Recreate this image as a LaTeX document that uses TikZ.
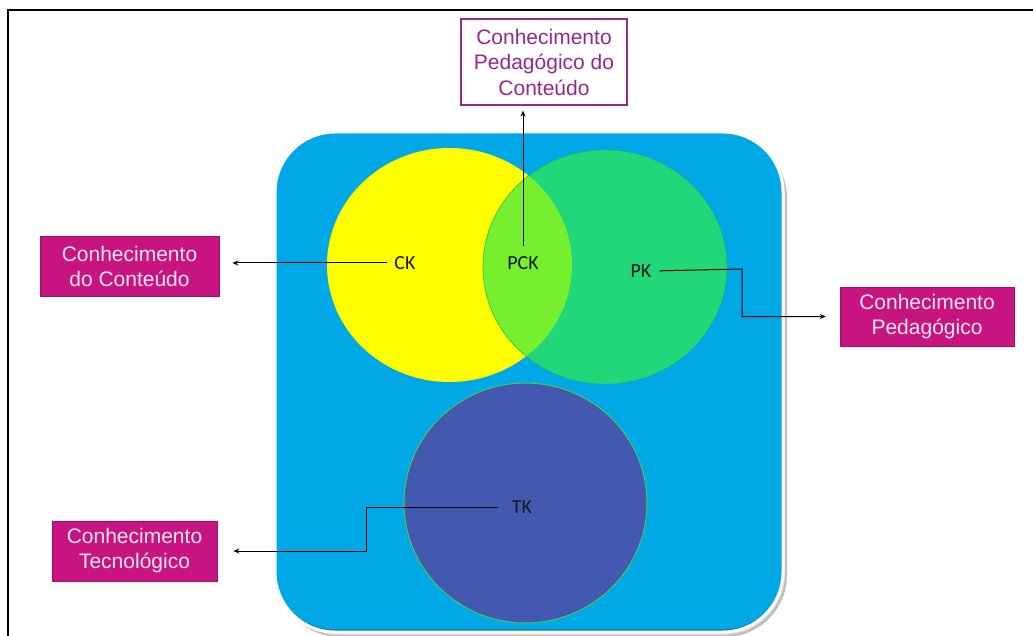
\documentclass[tikz,border=0pt]{standalone}
\usepackage{fontspec}
\newfontfamily\arialf{Liberation Sans}
\newfontfamily\calf{Carlito}
\usetikzlibrary{shapes.geometric,arrows.meta,calc}
\definecolor{bluebg}{RGB}{0,168,230}
\definecolor{ckyellow}{RGB}{255,255,0}
\definecolor{pkgreen}{RGB}{34,214,122}
\definecolor{pckgreen}{RGB}{118,240,46}
\definecolor{tkblue}{RGB}{67,89,176}
\definecolor{tkrim}{RGB}{70,200,90}
\definecolor{magbox}{RGB}{200,20,128}
\definecolor{magtext}{RGB}{252,228,240}
\definecolor{purp}{RGB}{150,40,140}
\tikzset{
  venn/.style={ellipse, draw=none, inner sep=0pt},
  lbl/.style={font=\calf\fontsize{20}{24}\selectfont, text=black!90, inner sep=0pt},
  magbox/.style={fill=magbox, draw=magbox!80!black, line width=0.6pt, text=magtext,
     font=\arialf\fontsize{21}{25}\selectfont, align=center, inner sep=0pt},
  topbox/.style={fill=white, draw=purp, line width=1.2pt, text=purp,
     font=\arialf\fontsize{21}{25.5}\selectfont, align=center, inner sep=0pt},
  arr/.style={draw=black, line width=1pt, -{Stealth[length=6pt,width=5pt]}},
}
\begin{document}
\begin{tikzpicture}[x=1pt,y=-1pt]
\useasboundingbox (0,0) rectangle (1033,636);
\fill[white] (0,0) rectangle (1033,636);
% frame
\draw[black, line width=2.2pt] (8,640) -- (8,10) -- (1040,10);
% blue rounded rectangle with shadow
\fill[black!25, rounded corners=62] (278,136) rectangle (787,637);
\fill[black!15, rounded corners=62] (276,133) rectangle (785,635);
\fill[bluebg!65!black, rounded corners=60] (275,132) rectangle (783,632);
\fill[bluebg, rounded corners=60] (275,132) rectangle (783,629.5);
\draw[white, line width=3pt, rounded corners=60] (275,132) rectangle (783,632);
% circles
\node[venn, fill=ckyellow, minimum width=245, minimum height=234] (ckc) at (449.5,265) {};
\node[venn, fill=pkgreen, draw=pkgreen!85!black, line width=0.4pt, minimum width=244, minimum height=234] (pkc) at (605,267) {};
\begin{scope}
  \clip (449.5,265) ellipse [x radius=122.5, y radius=117];
  \fill[pckgreen] (605,267) ellipse [x radius=122, y radius=117];
  \draw[pkgreen!80!black!60!pckgreen, line width=0.6pt] (605,267) ellipse [x radius=122, y radius=117];
\end{scope}
\node[venn, fill=tkblue, draw=tkrim, line width=1pt, minimum width=243, minimum height=240] (tkc) at (525.5,503) {};
% labels
\node[lbl] (ck) at (405,263) {CK};
\node[lbl] (pck) at (523,263) {PCK};
\node[lbl] (pk) at (641,271) {PK};
\node[lbl] (tk) at (522,507) {TK};
% boxes
\node[topbox, minimum width=166, minimum height=86] (pckbox) at (544,62) {Conhecimento\\Pedagógico do\\Conteúdo};
\node[magbox, minimum width=179, minimum height=60] (ckbox) at (129.5,266) {Conhecimento\\do Conteúdo};
\node[magbox, minimum width=174, minimum height=59] (pkbox) at (927,316.5) {Conhecimento\\Pedagógico};
\node[magbox, minimum width=165, minimum height=60] (tkbox) at (134.5,551) {Conhecimento\\Tecnológico};
% connectors
\draw[arr, shorten <=7pt, shorten >=13pt] (ck.west) -- (ck.west -| ckbox.east);
\draw[arr, shorten <=10pt, shorten >=5pt] (pck.north) -- (pck.north |- pckbox.south);
\coordinate (pkbend) at (742,269);
\draw[arr, shorten <=8pt, shorten >=14pt] (pk.east) -- (pkbend) |- (pkbox.west);
\coordinate (tkbend) at (366,507);
\draw[arr, shorten <=14pt, shorten >=16pt] (tk.west) -- (tkbend) |- (tkbox.east);
\end{tikzpicture}
\end{document}
